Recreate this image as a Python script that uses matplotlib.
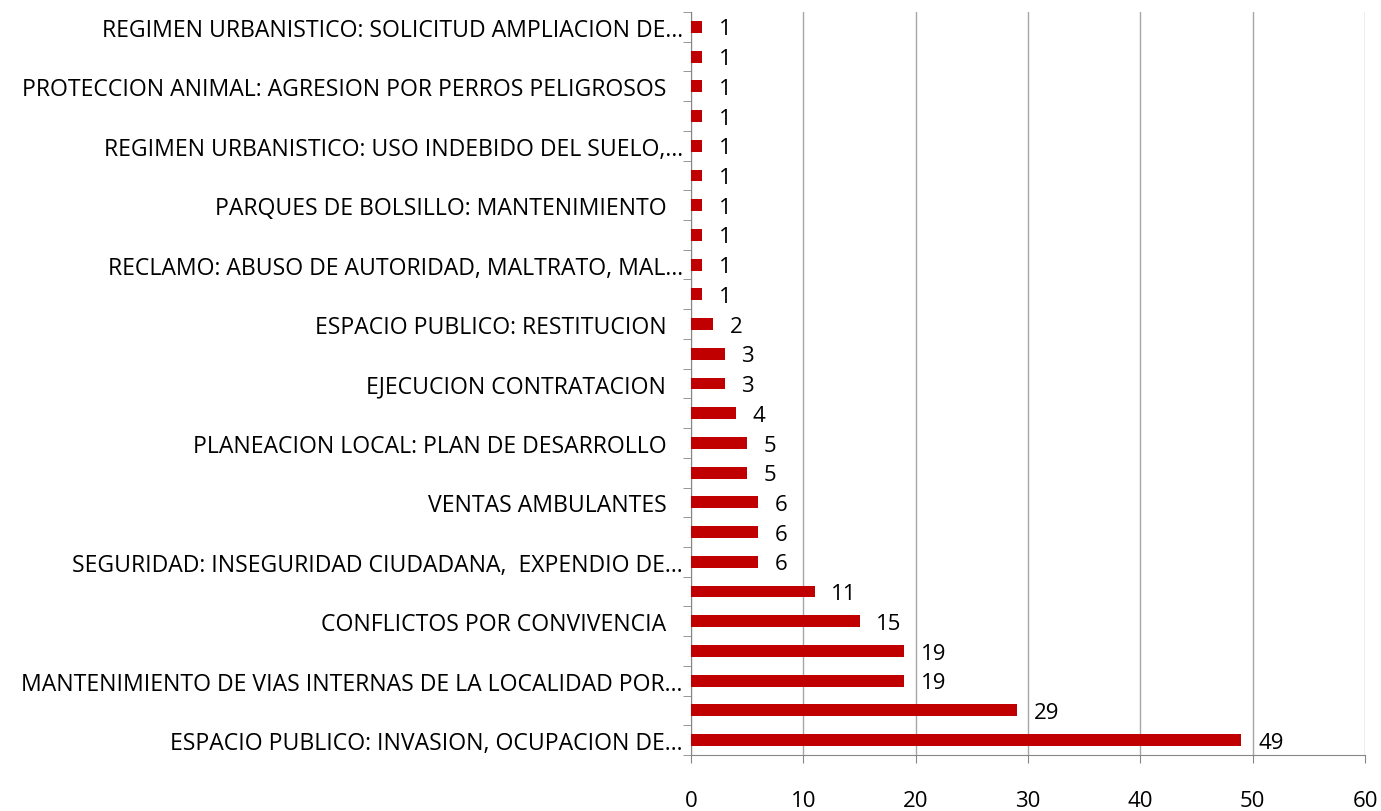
import matplotlib
matplotlib.use("Agg")
import matplotlib.pyplot as plt
import matplotlib.transforms as mtransforms
import numpy as np

categories = [
    "ESPACIO PUBLICO: INVASION, OCUPACION DE…",
    "",
    "MANTENIMIENTO DE VIAS INTERNAS DE LA LOCALIDAD POR…",
    "",
    "CONFLICTOS POR CONVIVENCIA ",
    "",
    "SEGURIDAD: INSEGURIDAD CIUDADANA,  EXPENDIO DE…",
    "",
    "VENTAS AMBULANTES ",
    "",
    "PLANEACION LOCAL: PLAN DE DESARROLLO ",
    "",
    "EJECUCION CONTRATACION ",
    "",
    "ESPACIO PUBLICO: RESTITUCION ",
    "",
    "RECLAMO: ABUSO DE AUTORIDAD, MALTRATO, MAL…",
    "",
    "PARQUES DE BOLSILLO: MANTENIMIENTO ",
    "",
    "REGIMEN URBANISTICO: USO INDEBIDO DEL SUELO,…",
    "",
    "PROTECCION ANIMAL: AGRESION POR PERROS PELIGROSOS ",
    "",
    "REGIMEN URBANISTICO: SOLICITUD AMPLIACION DE…",
]
values = [49, 29, 19, 19, 15, 11, 6, 6, 6, 5, 5, 4, 3, 3, 2, 1, 1, 1, 1, 1, 1, 1, 1, 1, 1]
x_ticks = [0, 10, 20, 30, 40, 50, 60]

plt.rcParams['font.family'] = ['Open Sans', 'DejaVu Sans']

fig = plt.figure(figsize=(13.81, 8.12), dpi=100)
ax = fig.add_axes([691/1381, 1-756/812, (1365-691)/1381, (756-13)/812])

y = np.arange(len(values))
ax.barh(y, values, height=0.4, color='#C00000', zorder=3)
for yi, v in zip(y, values):
    ax.annotate(str(v), (v, yi), xytext=(12, -1.5), textcoords='offset points',
                va='center', ha='left', fontsize=16, color='black')

ax.set_xlim(0, 60)
ax.set_ylim(-0.5, len(values) - 0.5)
ax.set_xticks(x_ticks)
ax.set_xticklabels([str(t) for t in x_ticks], fontsize=16)
ax.tick_params(axis='x', length=6, color='#868686', pad=19.5)
ax.set_yticks(y)
ax.set_yticklabels(categories, fontsize=16.6)
ax.tick_params(axis='y', which='major', length=0, pad=6)
ax.set_yticks(np.arange(-0.5, len(values), 1), minor=True)
ax.tick_params(axis='y', which='minor', length=6, color='#868686')
ax.grid(axis='x', color='#A6A6A6', linewidth=1, zorder=0)
for s in ['top', 'right']:
    ax.spines[s].set_visible(False)
for s in ['left', 'bottom']:
    ax.spines[s].set_color('#868686')

# trailing space in a label: shift it left by the width of a space
shift = mtransforms.ScaledTranslation(-7.5/72, 0, fig.dpi_scale_trans)
for lbl in ax.get_yticklabels():
    if lbl.get_text().endswith(' '):
        lbl.set_transform(lbl.get_transform() + shift)

fig.savefig('out.png', dpi=100)
